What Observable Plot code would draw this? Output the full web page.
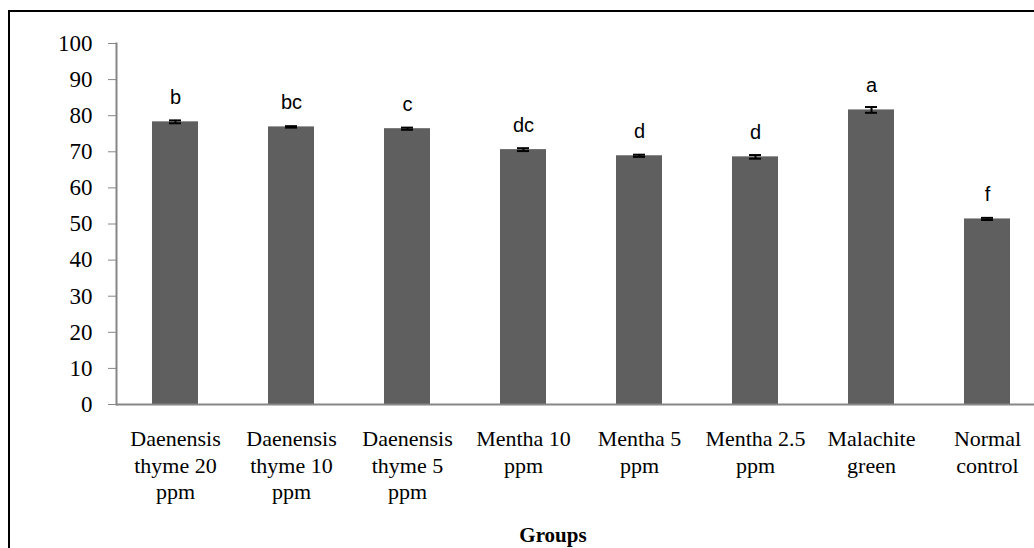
<!DOCTYPE html>
<html>
<head>
<meta charset="utf-8">
<script src="https://cdn.jsdelivr.net/npm/d3@7"></script>
<script src="https://cdn.jsdelivr.net/npm/@observablehq/plot@0.6"></script>
<style>
  html, body { margin: 0; padding: 0; background: #fff; overflow: hidden; font-family: "Liberation Serif"; }
  #wrap { position: relative; width: 1034px; height: 548px; }
  #border { position: absolute; left: 8px; top: 10px; width: 1100px; height: 600px;
            border-top: 2.5px solid #000; border-left: 2.5px solid #000; }
  #chart { position: absolute; left: 0; top: 0; }
  #xlabel { position: absolute; left: 453px; width: 200px; top: 523px; text-align: center;
            font-family: "Liberation Serif"; font-weight: bold; font-size: 21px; }
</style>
</head>
<body>
<div id="wrap">
  <div id="border"></div>
  <div id="chart"></div>
  <div id="xlabel">Groups</div>
</div>
<script>
const categories = ["Daenensis thyme 20 ppm", "Daenensis thyme 10 ppm", "Daenensis thyme 5 ppm",
  "Mentha 10 ppm", "Mentha 5 ppm", "Mentha 2.5 ppm", "Malachite green", "Normal control"];
const tickLabels = ["Daenensis\nthyme 20\nppm", "Daenensis\nthyme 10\nppm", "Daenensis\nthyme 5\nppm",
  "Mentha 10\nppm", "Mentha 5\nppm", "Mentha 2.5\nppm", "Malachite\ngreen", "Normal\ncontrol"];
const values = [78.3, 76.9, 76.4, 70.6, 68.9, 68.6, 81.6, 51.4];
const errors = [0.4, 0.2, 0.3, 0.4, 0.3, 0.5, 0.8, 0.3];
const letters = ["b", "bc", "c", "dc", "d", "d", "a", "f"];
const yTicks = [0, 10, 20, 30, 40, 50, 60, 70, 80, 90, 100];

const data = categories.map((c, i) => ({
  group: c, value: values[i], err: errors[i], letter: letters[i], label: tickLabels[i]
}));
const labelOf = new Map(data.map(d => [d.group, d.label]));

const serif = "Liberation Serif";
const sans = "Liberation Sans";
const axisColor = "#868686";
const capInset = 17;
const chart = Plot.plot({
  width: 1034,
  height: 548,
  marginLeft: 116,
  marginRight: 0,
  marginTop: 43,
  marginBottom: 144,
  style: "font-family: 'Liberation Serif';",
  x: { domain: categories, range: [116, 1046], paddingInner: 0.6, paddingOuter: 0.3, axis: null },
  y: { domain: [0, 100], axis: null },
  marks: [
    Plot.barY(data, { x: "group", y: "value", fill: "#5f5f5f" }),
    Plot.ruleX(data, { x: "group", y1: d => d.value - d.err, y2: d => d.value + d.err, stroke: "#000", strokeWidth: 2 }),
    Plot.tickY(data, { x: "group", y: d => d.value - d.err, stroke: "#000", strokeWidth: 2, insetLeft: capInset, insetRight: capInset }),
    Plot.tickY(data, { x: "group", y: d => d.value + d.err, stroke: "#000", strokeWidth: 2, insetLeft: capInset, insetRight: capInset }),
    Plot.text(data, { x: "group", y: "value", text: "letter", dy: -24,
      fontFamily: sans, fontSize: 20, fill: "#000" }),
    Plot.axisY({ ticks: yTicks, tickSize: 8, tickPadding: 16, stroke: axisColor, fill: "#000",
      fontSize: 23, fontFamily: serif, label: null, tickFormat: d => String(d) }),
    Plot.axisX({ tickSize: 0, tickPadding: 23, fontSize: 22, lineHeight: 1.2, fill: "#000",
      fontFamily: serif, label: null, tickFormat: d => labelOf.get(d) }),
    Plot.frame({ anchor: "left", stroke: axisColor, strokeWidth: 2 }),
    Plot.ruleY([0], { stroke: axisColor, strokeWidth: 2 })
  ]
});
document.getElementById("chart").appendChild(chart);
// force style resolution and text layout once the chart is in the document
chart.querySelectorAll("text").forEach(t => { getComputedStyle(t).fontFamily; t.getComputedTextLength(); });
</script>
</body>
</html>
